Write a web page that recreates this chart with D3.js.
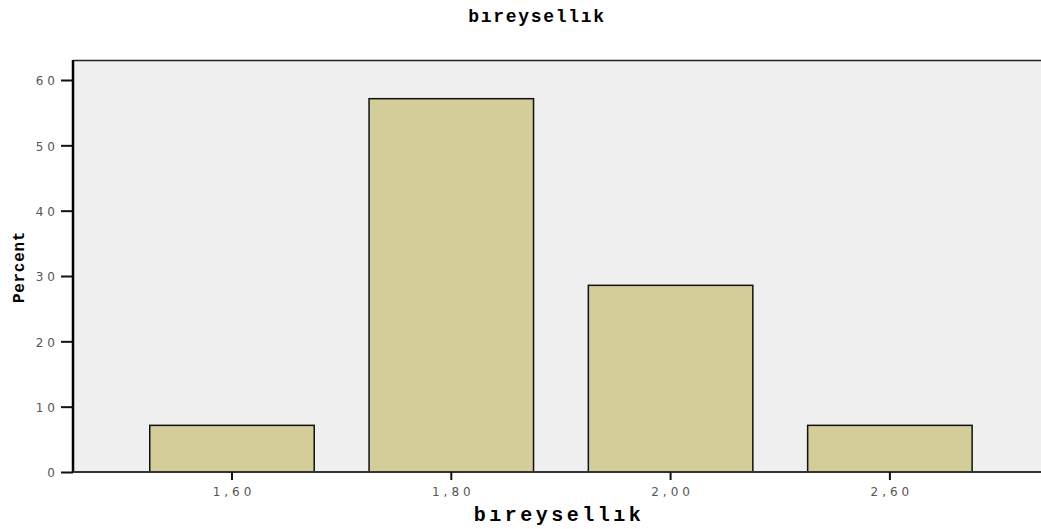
<!DOCTYPE html>
<html>
<head>
<meta charset="utf-8">
<script src="https://cdn.jsdelivr.net/npm/d3@7"></script>
<style>
  body { margin: 0; background: #fff; }
  .lbl { font-family: "Liberation Mono", monospace; font-weight: bold; fill: #000; }
</style>
</head>
<body>
<div id="chart"></div>
<script>
// data
const categories = ["1,60", "1,80", "2,00", "2,60"];
const percents = [7.14, 57.14, 28.57, 7.14];
const yTicks = [0, 10, 20, 30, 40, 50, 60];

const W = 1041, H = 529;
const margin = {top: 60, right: 0, bottom: 57, left: 73};
const plotH = H - margin.top - margin.bottom; // 412

const svg = d3.select("#chart").append("svg")
    .attr("width", W)
    .attr("height", H);

// scales
const step = 219.3;
const x = d3.scaleBand()
    .domain(categories)
    .range([margin.left, margin.left + step * (4 - 0.25 + 0.7)])
    .paddingInner(0.25)
    .paddingOuter(0.35);

const y = d3.scaleLinear()
    .domain([0, 60])
    .range([H - margin.bottom, margin.top + 20]);

// plot background
svg.append("rect")
    .attr("x", margin.left)
    .attr("y", margin.top)
    .attr("width", W - margin.left)
    .attr("height", plotH)
    .attr("fill", "#efefef");

svg.append("line")
    .attr("x1", margin.left).attr("x2", W)
    .attr("y1", margin.top + 0.5).attr("y2", margin.top + 0.5)
    .attr("stroke", "#222").attr("stroke-width", 1.5);

// bars
svg.append("g")
    .selectAll("rect")
    .data(percents)
    .enter().append("rect")
    .attr("x", (d, i) => x(categories[i]))
    .attr("y", d => y(d))
    .attr("width", x.bandwidth())
    .attr("height", d => y(0) - y(d))
    .attr("fill", "#d3ce99")
    .attr("stroke", "#111")
    .attr("stroke-width", 1.5);

// tick label look
function tickStyle(sel) {
    sel.style("font-family", "Verdana, 'DejaVu Sans', sans-serif")
        .style("font-size", "12px")
        .style("fill", "#555")
        .style("letter-spacing", "4px");
}

// y axis
const yAxis = svg.append("g")
    .attr("transform", "translate(" + margin.left + ",0)")
    .call(d3.axisLeft(y).tickValues(yTicks).tickSize(12).tickPadding(6));
yAxis.select(".domain")
    .attr("d", "M0," + margin.top + "V" + (H - margin.bottom))
    .attr("stroke", "#000").attr("stroke-width", 2.5);
yAxis.selectAll(".tick line").attr("stroke", "#111").attr("stroke-width", 2);
yAxis.selectAll(".tick text").call(tickStyle).attr("dx", "4px").attr("dy", "0.4em");

// x axis
const xAxis = svg.append("g")
    .attr("transform", "translate(0," + (H - margin.bottom) + ")")
    .call(d3.axisBottom(x).tickSize(8).tickPadding(7));
xAxis.select(".domain")
    .attr("d", "M" + margin.left + ",0H" + W)
    .attr("stroke", "#333").attr("stroke-width", 2);
xAxis.selectAll(".tick line").attr("stroke", "#111").attr("stroke-width", 2);
xAxis.selectAll(".tick text").call(tickStyle).attr("dx", "2px");

// title
svg.append("text")
    .attr("class", "lbl")
    .attr("x", 537)
    .attr("y", 22)
    .attr("text-anchor", "middle")
    .style("font-size", "18px")
    .style("letter-spacing", "1.7px")
    .text("bıreysellık");

// x label
svg.append("text")
    .attr("class", "lbl")
    .attr("x", 559)
    .attr("y", 521)
    .attr("text-anchor", "middle")
    .style("font-size", "20px")
    .style("letter-spacing", "3.5px")
    .text("bıreysellık");

// y label
svg.append("text")
    .attr("class", "lbl")
    .attr("transform", "translate(24,267) rotate(-90)")
    .attr("text-anchor", "middle")
    .style("font-size", "16px")
    .style("letter-spacing", "0.7px")
    .text("Percent");
</script>
</body>
</html>
